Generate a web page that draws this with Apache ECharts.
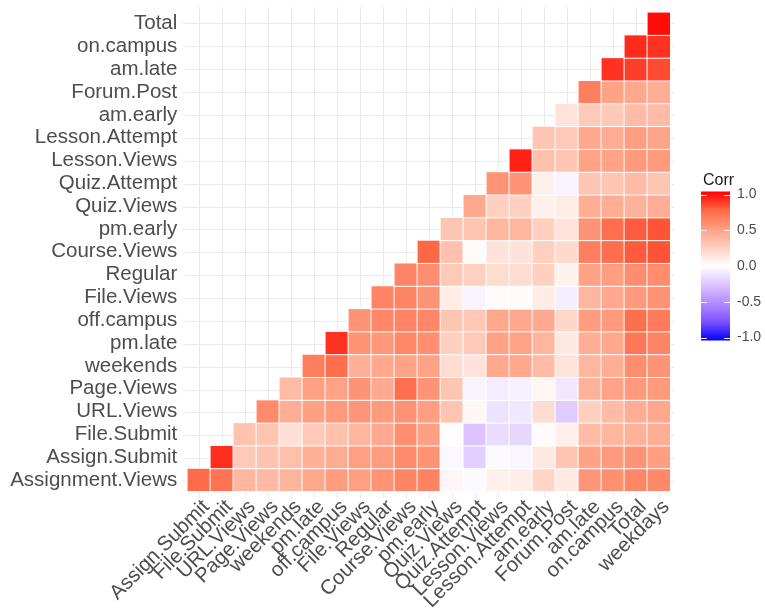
<!DOCTYPE html>
<html>
<head>
<meta charset="utf-8">
<script src="https://cdn.jsdelivr.net/npm/echarts@6/dist/echarts.min.js"></script>
<style>
  html, body { margin: 0; padding: 0; background: #ffffff; }
  #chart { width: 765px; height: 614px; }
</style>
</head>
<body>
<div id="chart"></div>
<script>
// Column variables (left to right)
const xLabels = [
  'Assign.Submit', 'File.Submit', 'URL.Views', 'Page.Views', 'weekends', 'pm.late',
  'off.campus', 'File.Views', 'Regular', 'Course.Views', 'pm.early', 'Quiz.Views',
  'Quiz.Attempt', 'Lesson.Views', 'Lesson.Attempt', 'am.early', 'Forum.Post',
  'am.late', 'on.campus', 'Total', 'weekdays'
];

// Row variables (bottom to top)
const yLabels = [
  'Assignment.Views', 'Assign.Submit', 'File.Submit', 'URL.Views', 'Page.Views',
  'weekends', 'pm.late', 'off.campus', 'File.Views', 'Regular', 'Course.Views',
  'pm.early', 'Quiz.Views', 'Quiz.Attempt', 'Lesson.Views', 'Lesson.Attempt',
  'am.early', 'Forum.Post', 'am.late', 'on.campus', 'Total'
];

// corrRows[k] holds the correlations of yLabels[k] with xLabels[k .. 20]
const corrRows = [
  [0.74, 0.70, 0.38, 0.36, 0.39, 0.45, 0.51, 0.49, 0.55, 0.62, 0.63, 0.04, -0.02, 0.08, 0.09, 0.22, 0.11, 0.54, 0.57, 0.61, 0.60],
  [0.89, 0.28, 0.31, 0.33, 0.41, 0.43, 0.49, 0.51, 0.59, 0.55, -0.03, -0.20, -0.02, -0.04, 0.12, 0.30, 0.48, 0.52, 0.55, 0.50],
  [0.31, 0.30, 0.16, 0.28, 0.32, 0.38, 0.44, 0.57, 0.49, 0.01, -0.25, -0.15, -0.17, 0.02, 0.08, 0.35, 0.38, 0.40, 0.42],
  [0.59, 0.42, 0.49, 0.52, 0.54, 0.52, 0.55, 0.50, 0.30, 0.04, -0.12, -0.10, 0.18, -0.22, 0.25, 0.35, 0.42, 0.45],
  [0.35, 0.49, 0.48, 0.55, 0.44, 0.72, 0.55, 0.30, -0.05, -0.08, -0.06, 0.05, -0.10, 0.40, 0.48, 0.52, 0.52],
  [0.65, 0.72, 0.41, 0.45, 0.48, 0.48, 0.18, 0.15, 0.45, 0.45, 0.35, 0.15, 0.38, 0.42, 0.58, 0.55],
  [0.88, 0.55, 0.53, 0.60, 0.57, 0.25, 0.28, 0.48, 0.48, 0.38, 0.12, 0.42, 0.45, 0.68, 0.62],
  [0.55, 0.61, 0.62, 0.61, 0.30, 0.29, 0.45, 0.45, 0.44, 0.21, 0.51, 0.52, 0.72, 0.66],
  [0.62, 0.62, 0.55, 0.10, -0.05, 0.02, 0.02, 0.10, -0.07, 0.38, 0.45, 0.52, 0.55],
  [0.62, 0.58, 0.28, 0.25, 0.18, 0.18, 0.25, 0.06, 0.48, 0.50, 0.58, 0.58],
  [0.75, 0.32, 0.02, 0.15, 0.15, 0.25, 0.20, 0.65, 0.72, 0.78, 0.80],
  [0.30, 0.30, 0.38, 0.38, 0.25, 0.15, 0.55, 0.72, 0.78, 0.80],
  [0.45, 0.25, 0.25, 0.08, 0.10, 0.42, 0.42, 0.40, 0.42],
  [0.55, 0.55, 0.08, -0.05, 0.30, 0.30, 0.35, 0.30],
  [0.92, 0.32, 0.30, 0.48, 0.48, 0.52, 0.52],
  [0.30, 0.28, 0.45, 0.43, 0.50, 0.47],
  [0.15, 0.28, 0.28, 0.35, 0.35],
  [0.65, 0.48, 0.45, 0.42],
  [0.88, 0.85, 0.82],
  [0.90, 0.88],
  [0.97]
];

// Colour-bar breaks
const legendTicks = [-1, -0.5, 0, 0.5, 1];

// Diverging blue-white-red ramp, sampled at -1, -0.75, ..., 1
const palette = [
  '#0000FF', '#7E51FF', '#B38BFF', '#DCC4FF', '#FFFFFF',
  '#FFCFBF', '#FF9E81', '#FF6846', '#FF0000'
];

const FONT = '"Liberation Sans", Arial, sans-serif';

// [column, row, value] triples for the heatmap
const cells = [];
corrRows.forEach(function (row, k) {
  row.forEach(function (v, j) { cells.push([k + j, k, v]); });
});

const panel = { left: 187.3, top: 12.3, width: 483, height: 480.5 };
const cellW = panel.width / xLabels.length;
const cellH = panel.height / yLabels.length;
const guideColor = '#ebebeb';

const chart = echarts.init(document.getElementById('chart'), null, { renderer: 'canvas' });

const option = {
  backgroundColor: '#ffffff',
  animation: false,
  title: {
    text: 'Corr',
    left: 698,
    top: 168,
    textStyle: { fontFamily: FONT, fontSize: 16, fontWeight: 'normal', color: '#1a1a1a' }
  },
  grid: [
    { left: panel.left, top: panel.top, width: panel.width, height: panel.height },
    { left: panel.left + cellW / 2, top: 7, width: panel.width - cellW, height: 491 },
    { left: 183, top: panel.top + cellH / 2, width: 492, height: panel.height - cellH },
    { left: 701, top: 194.5, width: 29, height: 143 }
  ],
  xAxis: [
    {
      gridIndex: 0, type: 'category', data: xLabels,
      axisLine: { show: false }, axisTick: { show: false }, splitLine: { show: false },
      axisLabel: {
        interval: 0, rotate: 45, margin: 5, verticalAlign: 'top',
        fontFamily: FONT, fontSize: 20.5, color: '#4d4d4d'
      }
    },
    {
      gridIndex: 1, type: 'value', min: 0, max: 20, interval: 1,
      axisLine: { show: false }, axisTick: { show: false }, axisLabel: { show: false },
      splitLine: { show: true, lineStyle: { color: guideColor, width: 1 } }
    },
    { gridIndex: 2, type: 'value', min: 0, max: 1, show: false },
    { gridIndex: 3, type: 'category', data: [''], show: false }
  ],
  yAxis: [
    {
      gridIndex: 0, type: 'category', data: yLabels,
      axisLine: { show: false }, axisTick: { show: false }, splitLine: { show: false },
      axisLabel: { interval: 0, margin: 10, fontFamily: FONT, fontSize: 20.5, color: '#4d4d4d' }
    },
    { gridIndex: 1, type: 'value', min: 0, max: 1, show: false },
    {
      gridIndex: 2, type: 'value', min: 0, max: 20, interval: 1,
      axisLine: { show: false }, axisTick: { show: false }, axisLabel: { show: false },
      splitLine: { show: true, lineStyle: { color: guideColor, width: 1 } }
    },
    {
      gridIndex: 3, type: 'value', min: -1, max: 1, interval: 0.5, position: 'right',
      axisLine: { show: false }, axisTick: { show: false }, splitLine: { show: false },
      axisLabel: {
        margin: 7, fontFamily: FONT, fontSize: 14, color: '#4d4d4d',
        formatter: function (v) { return v.toFixed(1); }
      }
    }
  ],
  visualMap: {
    type: 'continuous', min: -1, max: 1, show: false, seriesIndex: 0,
    inRange: { color: palette }
  },
  series: [
    {
      type: 'heatmap', xAxisIndex: 0, yAxisIndex: 0, data: cells,
      itemStyle: { borderColor: '#ffffff', borderWidth: 1 },
      emphasis: { disabled: true }
    },
    {
      type: 'custom', xAxisIndex: 3, yAxisIndex: 3, data: [[0, 0]], silent: true,
      renderItem: function (params, api) {
        const cs = params.coordSys;
        const yTop = api.coord([0, 1])[1];
        const yBot = api.coord([0, -1])[1];
        const pad = 3;
        const stops = palette.slice().reverse().map(function (c, i) {
          return { offset: i / (palette.length - 1), color: c };
        });
        const children = [{
          type: 'rect',
          shape: { x: cs.x, y: yTop - pad, width: cs.width, height: yBot - yTop + 2 * pad },
          style: { fill: { type: 'linear', x: 0, y: 0, x2: 0, y2: 1, colorStops: stops } }
        }];
        const tickLen = cs.width / 5;
        legendTicks.forEach(function (t) {
          const y = Math.round(api.coord([0, t])[1]) + 0.5;
          children.push({ type: 'line', shape: { x1: cs.x, y1: y, x2: cs.x + tickLen, y2: y },
            style: { stroke: '#ffffff', lineWidth: 1 } });
          children.push({ type: 'line', shape: { x1: cs.x + cs.width - tickLen, y1: y, x2: cs.x + cs.width, y2: y },
            style: { stroke: '#ffffff', lineWidth: 1 } });
        });
        return { type: 'group', children: children };
      }
    }
  ]
};

chart.setOption(option);
</script>
</body>
</html>
